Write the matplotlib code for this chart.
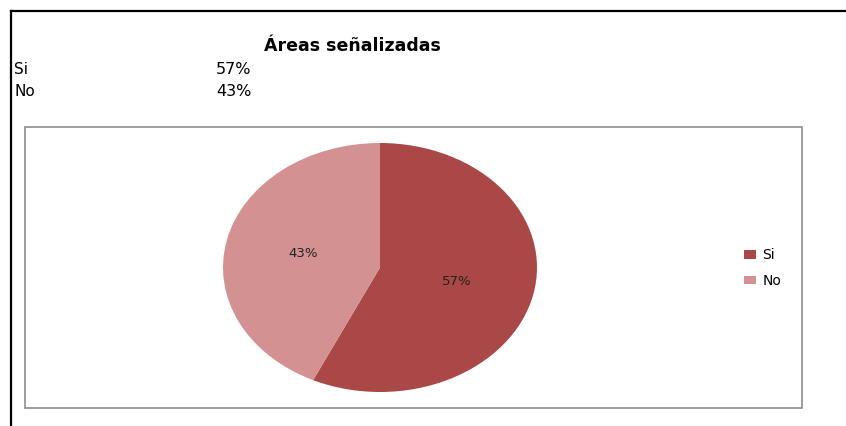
import matplotlib.pyplot as plt
from matplotlib.patches import Rectangle
from matplotlib.lines import Line2D

# data
labels = ["Si", "No"]
values = [57, 43]
colors = ["#A94846", "#D39291"]
title = "Áreas señalizadas"

W, H = 846, 426
fig = plt.figure(figsize=(W / 100, H / 100), dpi=100)
fig.patch.set_facecolor("white")


def px(x, y):
    # pixel coords (top-left origin) -> figure fraction
    return x / W, 1 - y / H


# sheet border lines
fig.add_artist(Line2D([11 / W, 1], [1 - 11 / H] * 2, color="black", lw=1.6))
fig.add_artist(Line2D([11 / W] * 2, [0, 1 - 11 / H], color="black", lw=1.6))

# title and small table
fig.text(*px(352, 46), title, ha="center", va="center", fontsize=12.5,
         fontweight="bold", family="DejaVu Sans")
for i, (lab, v) in enumerate(zip(labels, values)):
    y = 70 + 22 * i
    fig.text(*px(14, y), lab, ha="left", va="center", fontsize=11,
             family="DejaVu Sans")
    fig.text(*px(216, y), f"{v}%", ha="left", va="center", fontsize=11.5,
             family="DejaVu Sans")

# chart frame
x0, y0 = px(25, 408)
fig.add_artist(Rectangle((x0, y0), (802 - 25) / W, (408 - 127) / H,
                         transform=fig.transFigure, fill=False,
                         edgecolor="#8c8c8c", lw=1.2))

# pie (elliptical, like the spreadsheet render)
ax = fig.add_axes([223 / W, 1 - 392 / H, 314 / W, 249 / H])
wedges, texts, autotexts = ax.pie(values, colors=colors, startangle=90,
                                  counterclock=False, autopct="%1.0f%%",
                                  pctdistance=0.5,
                                  wedgeprops=dict(edgecolor="none"),
                                  textprops=dict(fontsize=9.5, color="#222222"))
ax.set_aspect("auto")
ax.set_xlim(-1, 1)
ax.set_ylim(-1, 1)
ax.axis("off")

fig.legend(wedges, labels, loc="center left", bbox_to_anchor=px(744, 268),
           frameon=False, fontsize=10, handlelength=0.86, handleheight=0.58,
           labelspacing=0.85, handletextpad=0.45, borderpad=0,
           borderaxespad=0)

fig.savefig("out.png", dpi=100)
